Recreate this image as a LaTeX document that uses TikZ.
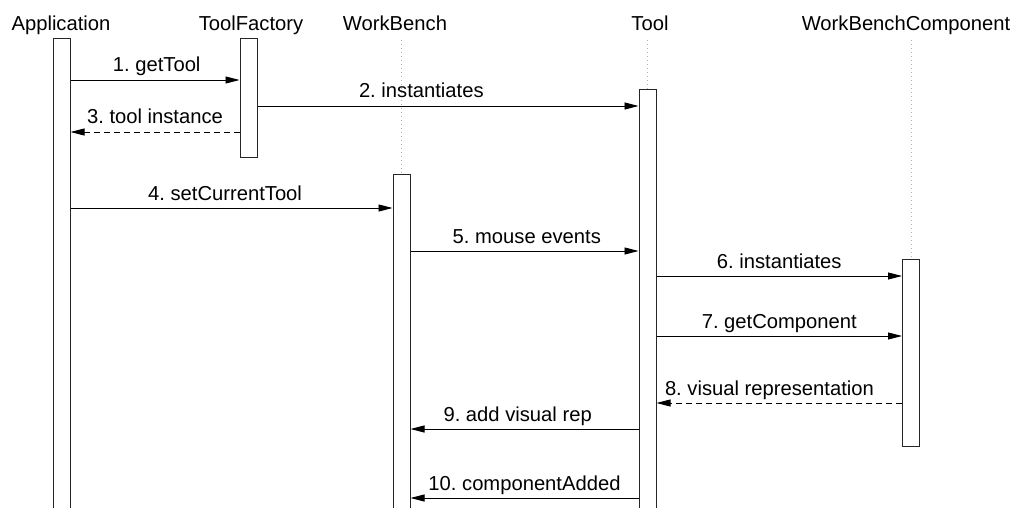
\documentclass[tikz,border=0pt]{standalone}
\usepackage{fontspec}
\setmainfont{Liberation Sans}
\usetikzlibrary{arrows.meta}
\frenchspacing
\begin{document}
\begin{tikzpicture}[x=1pt,y=-1pt,
  font=\fontsize{20.2}{24}\selectfont,
  head/.style={anchor=base, inner sep=0pt},
  act/.style={draw=black!85, fill=white, line width=1pt, minimum width=17pt,
              inner sep=0pt, anchor=north},
  life/.style={draw=black!30, line width=0.6pt, dash pattern=on 1pt off 3pt},
  msg/.style={-{Triangle[length=14pt,width=7pt]}, line width=0.9pt},
  reply/.style={msg, dash pattern=on 6pt off 4pt},
  lbl/.style={anchor=base, inner sep=0pt, yshift=8pt}]
\clip (0,0) rectangle (1016,508);
\fill[white] (0,0) rectangle (1016,508);

% participant headings
\node[head] (happ) at (61,31) {Application};
\node[head] (htf)  at (251,31) {ToolFactory};
\node[head] (hwb)  at (395,31) {WorkBench};
\node[head] (htl)  at (650,31) {Tool};
\node[head] (hwbc) at (906,31) {WorkBenchComponent};

% lifelines above the activations
\draw[life] (401.5,40) -- (401.5,174);
\draw[life] (647.5,40) -- (647.5,89);
\draw[life] (911,40) -- (911,259);

% activation bars
\node[act, minimum height=480pt] (app) at (61.5,38) {};
\node[act, minimum height=119pt] (tf)  at (248.5,38) {};
\node[act, minimum height=340pt] (wb)  at (401.5,174) {};
\node[act, minimum height=425pt] (tl)  at (647.5,89) {};
\node[act, minimum height=187pt] (wbc) at (911,259) {};

% message levels
\coordinate (m1) at (0,80);
\coordinate (m2) at (0,106);
\coordinate (m3) at (0,132);
\coordinate (m4) at (0,208);
\coordinate (m5) at (0,251);
\coordinate (m6) at (0,276);
\coordinate (m7) at (0,336);
\coordinate (m8) at (0,403);
\coordinate (m9) at (0,429);
\coordinate (m10) at (0,498);

% messages
\draw[msg] (app.east |- m1) -- node[lbl, pos=0.51] {1. getTool} (tf.west |- m1);
\draw[msg] (tf.east |- m2) -- node[lbl, pos=0.43] {2. instantiates} (tl.west |- m2);
\draw[reply] (tf.west |- m3) -- node[lbl] {3. tool instance} (app.east |- m3);
\draw[msg] (app.east |- m4) -- node[lbl, pos=0.48] {4. setCurrentTool} (wb.west |- m4);
\draw[msg] (wb.east |- m5) -- node[lbl, pos=0.51] {5. mouse events} (tl.west |- m5);
\draw[msg] (tl.east |- m6) -- node[lbl] {6. instantiates} (wbc.west |- m6);
\draw[msg] (tl.east |- m7) -- node[lbl] {7. getComponent} (wbc.west |- m7);
\draw[reply] (wbc.west |- m8) -- node[lbl, pos=0.54] {8. visual representation} (tl.east |- m8);
\draw[msg] (tl.west |- m9) -- node[lbl, pos=0.53] {9. add visual rep} (wb.east |- m9);
\draw[msg] (tl.west |- m10) -- node[lbl] {10. componentAdded} (wb.east |- m10);
\end{tikzpicture}
\end{document}
